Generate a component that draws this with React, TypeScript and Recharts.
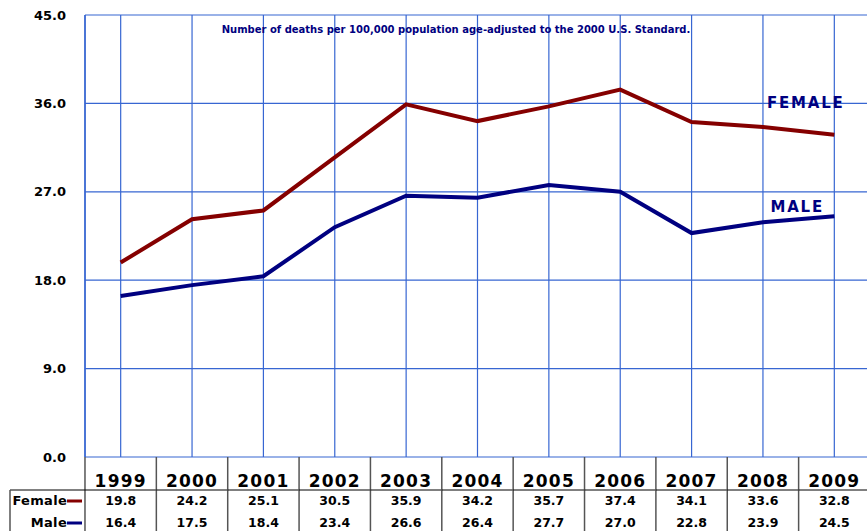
import { LineChart, Line, XAxis, YAxis, CartesianGrid, ReferenceLine, ReferenceDot } from 'recharts';

const years = [1999, 2000, 2001, 2002, 2003, 2004, 2005, 2006, 2007, 2008, 2009];
const femaleRates = [19.8, 24.2, 25.1, 30.5, 35.9, 34.2, 35.7, 37.4, 34.1, 33.6, 32.8];
const maleRates = [16.4, 17.5, 18.4, 23.4, 26.6, 26.4, 27.7, 27.0, 22.8, 23.9, 24.5];
const yTicks = [0, 9, 18, 27, 36, 45];

const FEMALE_COLOR = '#850000';
const MALE_COLOR = '#000080';
const GRID_COLOR = '#3766d2';
const FONT = '"DejaVu Sans", Verdana, sans-serif';

const data = years.map((year, i) => ({ year, female: femaleRates[i], male: maleRates[i] }));

// x axis tick doubles as a column of the data table underneath
function TableTick(props: any) {
  const { x, y, payload, index } = props;
  const half = 35.7;
  const i = years.indexOf(payload.value);
  const last = i === years.length - 1;
  return (
    <g fontFamily={FONT} fontWeight="bold" fill="#000">
      <line x1={x - half} x2={x - half} y1={y} y2={y + 80} stroke="#555" strokeWidth={1.5} />
      {last && <line x1={x + half} x2={x + half} y1={y} y2={y + 80} stroke="#555" strokeWidth={1.5} />}
      <line x1={index === 0 ? 10 : x - half} x2={x + half} y1={y + 33} y2={y + 33} stroke="#000" strokeWidth={1} />
      <text x={x} y={y + 30} textAnchor="middle" fontSize={17} letterSpacing={1.2}>{payload.value}</text>
      <text x={x} y={y + 48} textAnchor="middle" fontSize={12.5}>{femaleRates[i].toFixed(1)}</text>
      <text x={x} y={y + 70} textAnchor="middle" fontSize={12.5}>{maleRates[i].toFixed(1)}</text>
      {index === 0 && (
        <g>
          <line x1={10} x2={10} y1={y + 33} y2={y + 80} stroke="#555" strokeWidth={1.5} />
          <text x={67} y={y + 48} textAnchor="end" fontSize={13} letterSpacing={0.3}>Female</text>
          <line x1={67} x2={82} y1={y + 44} y2={y + 44} stroke={FEMALE_COLOR} strokeWidth={3} />
          <text x={67} y={y + 70} textAnchor="end" fontSize={13} letterSpacing={0.3}>Male</text>
          <line x1={67} x2={82} y1={y + 66} y2={y + 66} stroke={MALE_COLOR} strokeWidth={3} />
        </g>
      )}
    </g>
  );
}

function SeriesTag({ viewBox, text }: any) {
  if (!viewBox) return null;
  return (
    <text x={viewBox.x} y={viewBox.y} dy={5} textAnchor="middle" fontFamily={FONT} fontWeight="bold"
      fontSize={15} letterSpacing={1.8} fill={MALE_COLOR}>
      {text}
    </text>
  );
}

export default function App() {
  return (
    <div style={{ position: 'absolute', left: 0, top: 0, width: 867, height: 531, overflow: 'hidden', background: '#fff' }}>
      <LineChart width={870} height={531} data={data} margin={{ top: 15, right: 0, bottom: 0, left: 0 }}>
        <CartesianGrid stroke={GRID_COLOR} strokeWidth={1.2} />
        <ReferenceLine x={1998.5} stroke={GRID_COLOR} strokeWidth={1.5} />
        <XAxis
          dataKey="year"
          type="number"
          domain={[1998.5, 2009.5]}
          ticks={years}
          interval={0}
          height={74}
          axisLine={false}
          tickLine={false}
          tickSize={0}
          tickMargin={0}
          tick={<TableTick />}
        />
        <YAxis
          domain={[0, 45]}
          ticks={yTicks}
          width={85}
          axisLine={false}
          tickLine={false}
          tickSize={0}
          tickMargin={19}
          tickFormatter={(v: number) => v.toFixed(1)}
          tick={{ fontFamily: FONT, fontWeight: 'bold', fontSize: 13, fill: '#000' }}
        />
        <Line dataKey="female" stroke={FEMALE_COLOR} strokeWidth={4} dot={false} isAnimationActive={false} />
        <Line dataKey="male" stroke={MALE_COLOR} strokeWidth={4} dot={false} isAnimationActive={false} />
        <ReferenceDot x={2008.6} y={36} r={0} label={<SeriesTag text="FEMALE" />} />
        <ReferenceDot x={2008.48} y={25.5} r={0} label={<SeriesTag text="MALE" />} />
      </LineChart>
      <div style={{ position: 'absolute', left: 0, top: 24, width: 912, textAlign: 'center', fontFamily: FONT, fontWeight: 'bold', fontSize: 10, color: MALE_COLOR }}>
        Number of deaths per 100,000 population age-adjusted to the 2000 U.S. Standard.
      </div>
    </div>
  );
}
